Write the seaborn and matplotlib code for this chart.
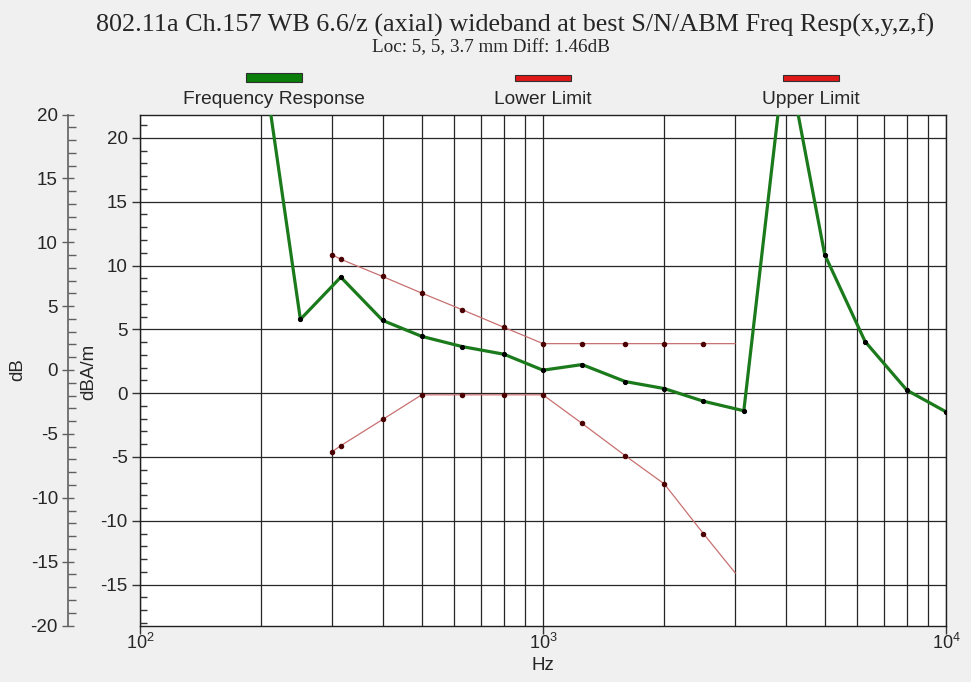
import matplotlib
matplotlib.use("Agg")
import matplotlib.pyplot as plt
from matplotlib.patches import Rectangle
from matplotlib.ticker import FixedLocator, MultipleLocator, LogLocator, NullFormatter
import seaborn as sns
import pandas as pd

# ---- data ----
resp_freq = [200, 250, 315, 400, 500, 630, 800, 1000, 1250, 1600, 2000, 2500, 3150,
             4000, 5000, 6300, 8000, 10000]
resp_db = [27.0, 5.78, 9.09, 5.70, 4.45, 3.65, 3.05, 1.80, 2.24, 0.91, 0.36, -0.63, -1.38,
           27.0, 10.86, 4.04, 0.23, -1.46]

limit_freq = [300, 315, 400, 500, 630, 800, 1000, 1250, 1600, 2000, 2500, 3000]
upper_db = [10.84, 10.49, 9.14, 7.84, 6.54, 5.16, 3.88, 3.88, 3.88, 3.88, 3.88, 3.88]
lower_db = [-4.58, -4.11, -2.06, -0.13, -0.13, -0.13, -0.13, -2.37, -4.90, -7.11, -11.0, -14.09]

legend_labels = ["Frequency Response", "Lower Limit", "Upper Limit"]
title = "802.11a Ch.157 WB 6.6/z (axial) wideband at best S/N/ABM Freq Resp(x,y,z,f)"
subtitle = "Loc: 5, 5, 3.7 mm Diff: 1.46dB"

resp_df = pd.DataFrame({"f": resp_freq, "v": resp_db})
lim_df = pd.DataFrame({"f": limit_freq, "up": upper_db, "lo": lower_db})

# ---- style ----
sns.set_style("white")
plt.rcParams["font.family"] = ["Liberation Sans", "DejaVu Sans"]
plt.rcParams["mathtext.default"] = "regular"
plt.rcParams["axes.unicode_minus"] = False

W, H = 971, 682
fig = plt.figure(figsize=(W / 100, H / 100), dpi=100, facecolor="#f0f0f0")

def fx(px):
    return px / W

def fy(py):
    return 1 - py / H

left, right, top, bot = 140, 946, 114.5, 625.5
ax = fig.add_axes([fx(left), fy(bot), (right - left) / W, (bot - top) / H])
ax.set_facecolor("white")

GREEN = "#1b7a1b"
LIMC = "#c87070"
MK = "#4a0000"

n = len(limit_freq)
sns.lineplot(data=lim_df, x="f", y="up", ax=ax, color=LIMC, lw=0.9, sort=False, estimator=None,
             marker="o", markersize=3.2, markerfacecolor=MK, markeredgecolor=MK,
             markevery=list(range(n - 1)), zorder=3)
sns.lineplot(data=lim_df, x="f", y="lo", ax=ax, color=LIMC, lw=0.9, sort=False, estimator=None,
             marker="o", markersize=3.2, markerfacecolor=MK, markeredgecolor=MK,
             markevery=list(range(n - 1)), zorder=3)
sns.lineplot(data=resp_df, x="f", y="v", ax=ax, color=GREEN, lw=2.3, sort=False, estimator=None,
             marker="o", markersize=3.0, markerfacecolor="black", markeredgecolor="black",
             zorder=4)

ax.set_xscale("log")
ax.set_xlim(100, 10000)
ax.set_ylim(-18.2, 21.83)
ax.set_xlabel("")
ax.set_ylabel("")

# x ticks / grid
ax.xaxis.set_major_locator(FixedLocator([100, 1000, 10000]))
ax.set_xticklabels(["$10^{2}$", "$10^{3}$", "$10^{4}$"])
ax.xaxis.set_minor_locator(LogLocator(base=10, subs=[2, 3, 4, 5, 6, 7, 8, 9]))
ax.xaxis.set_minor_formatter(NullFormatter())
ax.tick_params(axis="x", which="major", bottom=True, direction="out", length=5.5, width=1,
               color="#333333", labelsize=13, pad=0)
ax.tick_params(axis="x", which="minor", bottom=False, length=0)

# y ticks (inner, dBA/m)
ax.yaxis.set_major_locator(MultipleLocator(5))
ax.yaxis.set_minor_locator(MultipleLocator(1))
ax.tick_params(axis="y", which="major", left=True, direction="out", length=6, width=1,
               color="#333333", labelsize=13.5, pad=3)
ax.tick_params(axis="y", which="minor", left=True, direction="in", length=4.8, width=1,
               color="#333333")
ax.tick_params(axis="y", which="both", right=False)

ax.grid(True, which="major", axis="y", color="#262626", lw=0.9)
ax.grid(True, which="both", axis="x", color="#262626", lw=0.9)
for s in ax.spines.values():
    s.set_visible(True)
    s.set_color("#202020")
    s.set_linewidth(1)

# outer dB axis
ax2 = fig.add_axes([fx(68.3), fy(bot), 0.0005, (bot - top) / H])
ax2.set_facecolor("none")
ax2.set_ylim(-20, 20)
ax2.set_xticks([])
for k in ["top", "right", "bottom"]:
    ax2.spines[k].set_visible(False)
ax2.spines["left"].set_color("#606060")
ax2.spines["left"].set_linewidth(1.2)
ax2.yaxis.set_major_locator(MultipleLocator(5))
ax2.yaxis.set_minor_locator(MultipleLocator(1))
ax2.tick_params(axis="y", which="major", left=True, direction="inout", length=9, width=1,
                color="#606060", labelsize=13.5, pad=3)
ax2.tick_params(axis="y", which="minor", left=True, direction="in", length=6, width=1,
                color="#606060")

# axis labels
fig.text(fx(18), fy(370), "dB", rotation=90, ha="center", va="center", fontsize=13.5)
fig.text(fx(89), fy(372), "dBA/m", rotation=90, ha="center", va="center", fontsize=13.5)
fig.text(fx(543), fy(666), "Hz", ha="center", va="center", fontsize=13.5)

# titles
fig.text(fx(515.5), fy(25), title, ha="center", va="center", fontsize=18.8,
         family=["Liberation Serif", "DejaVu Serif"])
fig.text(fx(490.5), fy(48), subtitle, ha="center", va="center", fontsize=13.8,
         family=["Liberation Serif", "DejaVu Serif"])

# legend
legend_items = [
    (legend_labels[0], 274, "#0a7d0a", 9),
    (legend_labels[1], 543, "#e01818", 6),
    (legend_labels[2], 811, "#e01818", 6),
]
for lab, cx, col, h in legend_items:
    w = 56
    fig.add_artist(Rectangle((fx(cx - w / 2), fy(77.5 + h / 2)), w / W, h / H,
                             transform=fig.transFigure, facecolor=col,
                             edgecolor="#303030", lw=0.8))
    fig.text(fx(cx), fy(100), lab, ha="center", va="center", fontsize=13.8)

fig.savefig("out.png", dpi=100, facecolor=fig.get_facecolor())
